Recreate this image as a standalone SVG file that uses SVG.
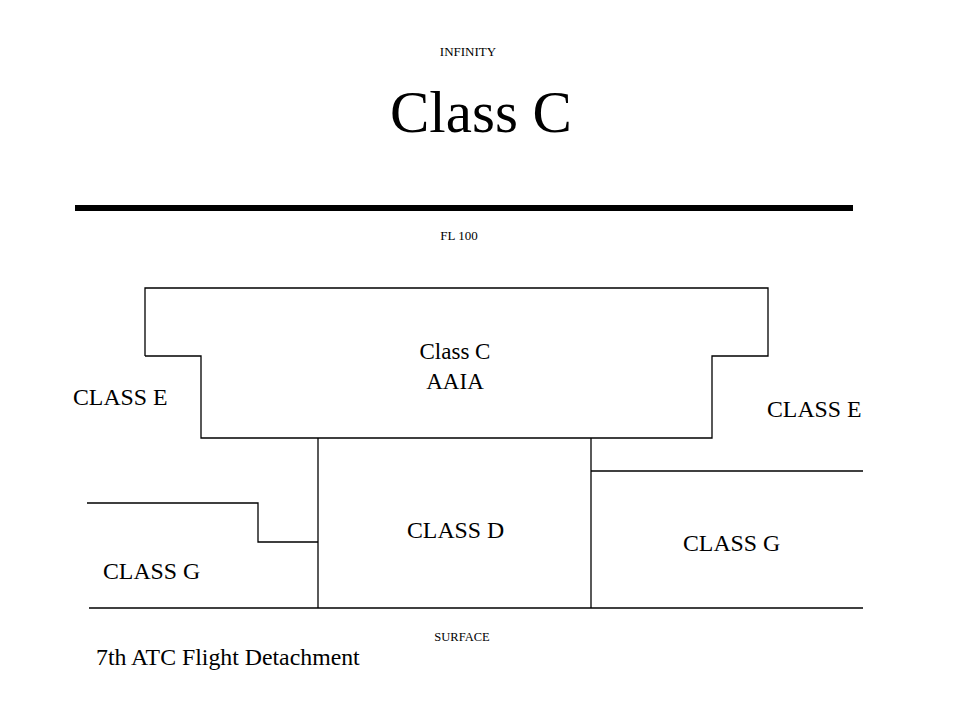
<svg xmlns="http://www.w3.org/2000/svg" width="960" height="720" viewBox="0 0 960 720">
<style>
text{font-family:"Liberation Serif","Times New Roman",serif;fill:#000}
.sm{font-size:13px}
.lb{font-size:23.8px}
.ttl{font-size:59px}
.ln{stroke:#000;stroke-width:1.3;fill:none}
</style>
<rect width="960" height="720" fill="#fff"/>
<g id="title">
<text class="sm" x="468" y="56" text-anchor="middle">INFINITY</text>
<text class="ttl" x="481" y="132" text-anchor="middle">Class C</text>
<line x1="75" y1="208" x2="853" y2="208" stroke="#000" stroke-width="6"/>
<text class="sm" x="459" y="240" text-anchor="middle">FL 100</text>
</g>
<g id="connectors">
<path class="ln" d="M145,356 V288 H768 V356 H712 V438 H201 V356 H145"/>
<path class="ln" d="M318,438 V608"/>
<path class="ln" d="M591,438 V608"/>
<path class="ln" d="M591,471 H863"/>
<path class="ln" d="M87,503 H258 V542 H318"/>
<path class="ln" d="M89,608 H863"/>
</g>
<g id="class-c-aaia">
<text class="lb" x="455" y="359" text-anchor="middle" style="font-size:23px">Class C</text>
<text class="lb" x="455" y="389" text-anchor="middle" style="font-size:23px">AAIA</text>
</g>
<g id="class-e-left"><text class="lb" x="73" y="405">CLASS E</text></g>
<g id="class-e-right"><text class="lb" x="767" y="417">CLASS E</text></g>
<g id="class-d"><text class="lb" x="407" y="538">CLASS D</text></g>
<g id="class-g-right"><text class="lb" x="683" y="551">CLASS G</text></g>
<g id="class-g-left"><text class="lb" x="103" y="579">CLASS G</text></g>
<g id="footer">
<text class="sm" x="462" y="641" text-anchor="middle" style="font-size:12.5px">SURFACE</text>
<text class="lb" x="96" y="665">7th ATC Flight Detachment</text>
</g>
</svg>
